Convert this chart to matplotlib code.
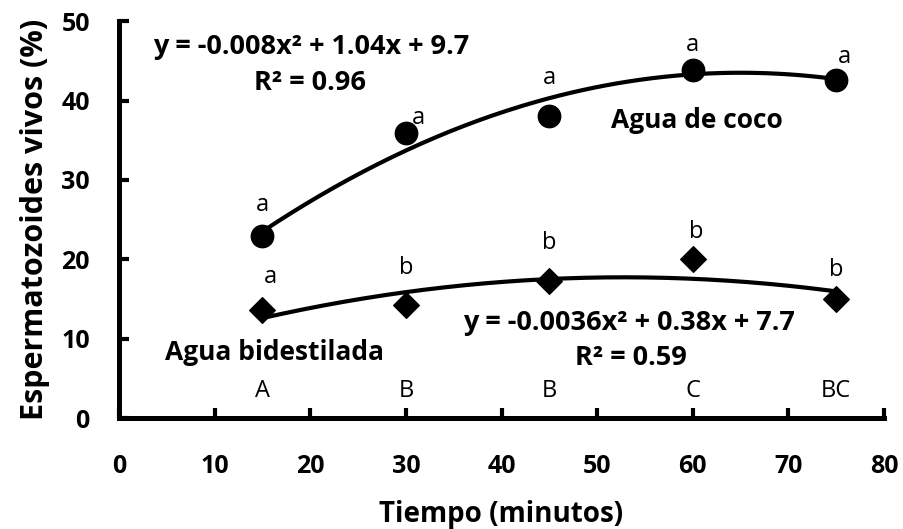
import numpy as np
import matplotlib
matplotlib.use("Agg")
import matplotlib.pyplot as plt

plt.rcParams['font.family'] = ['Open Sans', 'DejaVu Sans']

tiempo = [15, 30, 45, 60, 75]
coco = [22.9, 35.9, 38.0, 43.8, 42.6]
bidest = [13.6, 14.2, 17.3, 20.0, 15.0]
coco_coef = [-0.008, 1.04, 9.7]
bidest_coef = [-0.0036, 0.38, 7.7]
coco_letters = ['a', 'a', 'a', 'a', 'a']
bidest_letters = ['a', 'b', 'b', 'b', 'b']
time_letters = ['A', 'B', 'B', 'C', 'BC']

fig = plt.figure(figsize=(9.04, 5.29), dpi=100)
ax = fig.add_axes([0.1316, 0.2098, 0.8464, 0.7502])

xs = np.linspace(15, 75, 200)
ax.plot(xs, np.polyval(coco_coef, xs), color='black', lw=3, zorder=2)
ax.plot(xs, np.polyval(bidest_coef, xs), color='black', lw=3, zorder=2)
ax.scatter(tiempo, coco, s=260, marker='o', color='black', zorder=3)
ax.scatter(tiempo, bidest, s=170, marker='D', color='black', zorder=3)

ax.set_xlim(0, 80)
ax.set_ylim(0, 50)
ax.set_xticks(range(0, 81, 10))
ax.set_yticks(range(0, 51, 10))
for s in ['top', 'right']:
    ax.spines[s].set_visible(False)
for s in ['left', 'bottom']:
    ax.spines[s].set_linewidth(3.6)
ax.tick_params(direction='in', length=7, width=3, labelsize=18)
for lab in ax.get_xticklabels() + ax.get_yticklabels():
    lab.set_fontweight('bold')
ax.tick_params(axis='x', pad=26)
ax.tick_params(axis='y', pad=21)

ax.set_xlabel('Tiempo (minutos)', fontsize=20, fontweight='bold', labelpad=15)
ax.set_ylabel('Espermatozoides vivos (%)', fontsize=22, fontweight='bold', labelpad=8)

# letters
coco_lpos = [(15, 26.8), (31.3, 37.8), (45, 42.8), (60, 47.0), (75.9, 45.5)]
for (x, y), t in zip(coco_lpos, coco_letters):
    ax.text(x, y, t, fontsize=17, ha='center', va='center')
bid_lpos = [(15.8, 17.8), (30, 18.9), (45, 22.0), (60.4, 23.4), (75, 18.6)]
for (x, y), t in zip(bid_lpos, bidest_letters):
    ax.text(x, y, t, fontsize=17, ha='center', va='center')
for x, t in zip(tiempo, time_letters):
    ax.text(x, 3.4, t, fontsize=17, ha='center', va='center')

ax.text(20.1, 46.7, 'y = -0.008x² + 1.04x + 9.7', fontsize=19.5, fontweight='bold', ha='center', va='center')
ax.text(20.0, 42.2, 'R² = 0.96', fontsize=19.5, fontweight='bold', ha='center', va='center')
ax.text(60.4, 37.5, 'Agua de coco', fontsize=19, fontweight='bold', ha='center', va='center')
ax.text(16.3, 8.3, 'Agua bidestilada', fontsize=19, fontweight='bold', ha='center', va='center')
ax.text(53.3, 12.0, 'y = -0.0036x² + 0.38x + 7.7', fontsize=19.5, fontweight='bold', ha='center', va='center')
ax.text(53.5, 7.6, 'R² = 0.59', fontsize=19.5, fontweight='bold', ha='center', va='center')

fig.savefig('out.png', dpi=100)
